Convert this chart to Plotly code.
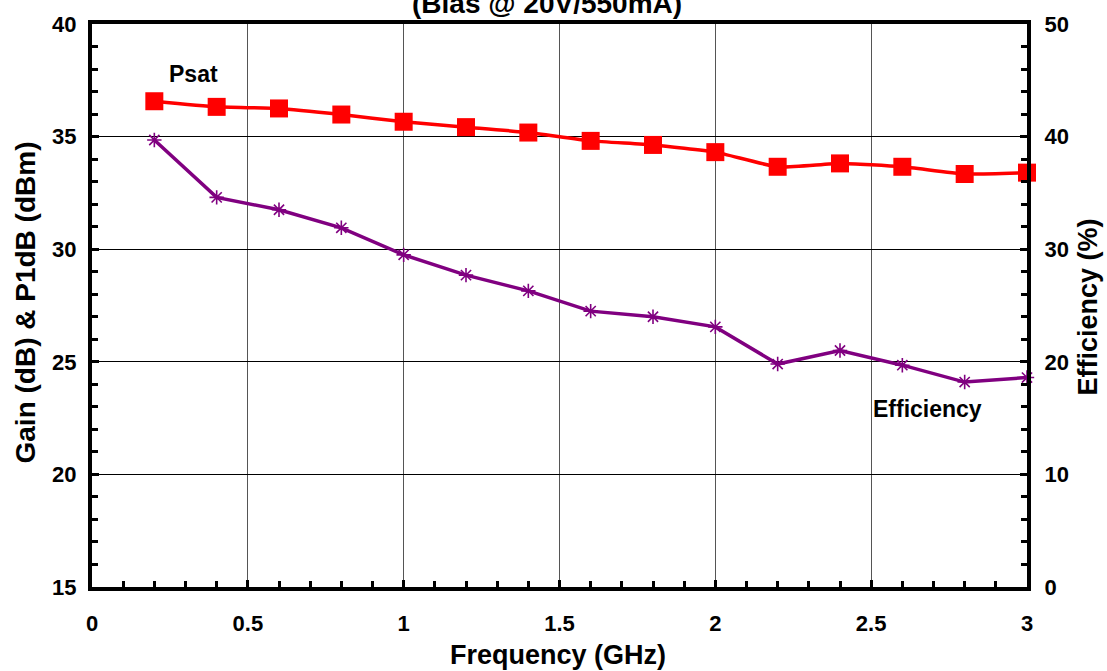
import plotly.graph_objects as go

# Frequency sweep (GHz)
freq_ghz = [0.2, 0.4, 0.6, 0.8, 1.0, 1.2, 1.4, 1.6, 1.8, 2.0, 2.2, 2.4, 2.6, 2.8, 3.0]
# Saturated output power (dBm), left axis
psat_dbm = [36.57, 36.32, 36.25, 35.98, 35.66, 35.42, 35.18, 34.81, 34.63, 34.31,
            33.66, 33.81, 33.66, 33.34, 33.40]
# Drain efficiency (%), right axis
efficiency_pct = [39.7, 34.6, 33.5, 31.9, 29.5, 27.7, 26.3, 24.5, 24.0, 23.1,
                  19.8, 21.0, 19.7, 18.2, 18.6]

x_ticks = [0, 0.5, 1, 1.5, 2, 2.5, 3]
x_tick_text = ["0", "0.5", "1", "1.5", "2", "2.5", "3"]
y_ticks = [15, 20, 25, 30, 35, 40]
y_tick_text = ["15", "20", "25", "30", "35", "40"]
y2_ticks = [0, 10, 20, 30, 40, 50]
y2_tick_text = ["0", "10", "20", "30", "40", "50"]

FONT = "Liberation Sans, Arial, sans-serif"
TICK_FONT = dict(family=FONT, size=22, color="black")


def bold(labels):
    return ["<b>%s</b>" % s for s in labels]


fig = go.Figure()

fig.add_trace(go.Scatter(
    x=freq_ghz, y=psat_dbm, name="Psat", mode="lines+markers",
    line=dict(color="#ff0000", width=3.5, shape="spline", smoothing=0.5),
    marker=dict(symbol="square", size=18, color="#ff0000"),
    yaxis="y", showlegend=False, cliponaxis=False,
))

fig.add_trace(go.Scatter(
    x=freq_ghz, y=efficiency_pct, name="Efficiency", mode="lines+markers",
    line=dict(color="#800080", width=3.5),
    marker=dict(symbol="asterisk-open", size=12, color="#800080",
                line=dict(color="#800080", width=1.6)),
    yaxis="y2", showlegend=False, cliponaxis=False,
))

fig.update_layout(
    width=1107, height=671,
    margin=dict(l=92, r=80, t=19, b=84),
    paper_bgcolor="white", plot_bgcolor="white",
    font=dict(family=FONT, color="black", size=18),
    xaxis=dict(
        range=[0, 3], tickvals=x_ticks, ticktext=bold(x_tick_text),
        showline=True, linecolor="black", linewidth=4, mirror=True,
        showgrid=True, gridcolor="#555555", gridwidth=1,
        ticks="inside", ticklen=7, tickwidth=3, tickcolor="black",
        minor=dict(dtick=0.1, ticks="inside", ticklen=6, tickwidth=3,
                   tickcolor="black", showgrid=False),
        tickfont=TICK_FONT, ticklabelstandoff=14,
        zeroline=False,
    ),
    yaxis=dict(
        range=[15, 40], tickvals=y_ticks, ticktext=bold(y_tick_text),
        showline=True, linecolor="black", linewidth=4,
        showgrid=True, gridcolor="black", gridwidth=1,
        ticks="inside", ticklen=7, tickwidth=3, tickcolor="black",
        minor=dict(dtick=1, ticks="inside", ticklen=6, tickwidth=3,
                   tickcolor="black", showgrid=False),
        tickfont=TICK_FONT, ticklabelstandoff=7,
        zeroline=False,
    ),
    yaxis2=dict(
        range=[0, 50], tickvals=y2_ticks, ticktext=bold(y2_tick_text),
        overlaying="y", side="right",
        showline=True, linecolor="black", linewidth=4,
        showgrid=False,
        ticks="inside", ticklen=7, tickwidth=3, tickcolor="black",
        minor=dict(dtick=2, ticks="inside", ticklen=6, tickwidth=3,
                   tickcolor="black", showgrid=False),
        tickfont=TICK_FONT, ticklabelstandoff=9,
        zeroline=False,
    ),
    annotations=[
        # chart title, running off the top edge of the page
        dict(text="<b>(Bias @ 20V/550mA)</b>", xref="paper", yref="paper",
             x=0.5, y=1, xshift=-13, yshift=21, xanchor="center", yanchor="middle",
             showarrow=False, font=dict(family=FONT, size=28, color="black")),
        # axis titles
        dict(text="<b>Frequency (GHz)</b>", xref="paper", yref="paper",
             x=0.5, y=0, xshift=-2, yshift=-68, xanchor="center", yanchor="middle",
             showarrow=False, font=dict(family=FONT, size=27, color="black")),
        dict(text="<b>Gain (dB) & P1dB (dBm)</b>", xref="paper", yref="paper",
             x=0, y=0.5, xshift=-67, yshift=3, xanchor="center", yanchor="middle",
             textangle=-90, showarrow=False,
             font=dict(family=FONT, size=28, color="black")),
        dict(text="<b>Efficiency (%)</b>", xref="paper", yref="paper",
             x=1, y=0.5, xshift=60, yshift=-2, xanchor="center", yanchor="middle",
             textangle=-90, showarrow=False,
             font=dict(family=FONT, size=27, color="black")),
        # series labels
        dict(text="<b>Psat</b>", xref="x", yref="y", x=0.325, y=37.8,
             showarrow=False, font=dict(family=FONT, size=23, color="black")),
        dict(text="<b>Efficiency</b>", xref="x", yref="y", x=2.68, y=22.9,
             showarrow=False, font=dict(family=FONT, size=23, color="black")),
    ],
)

fig.write_html("out.html")
